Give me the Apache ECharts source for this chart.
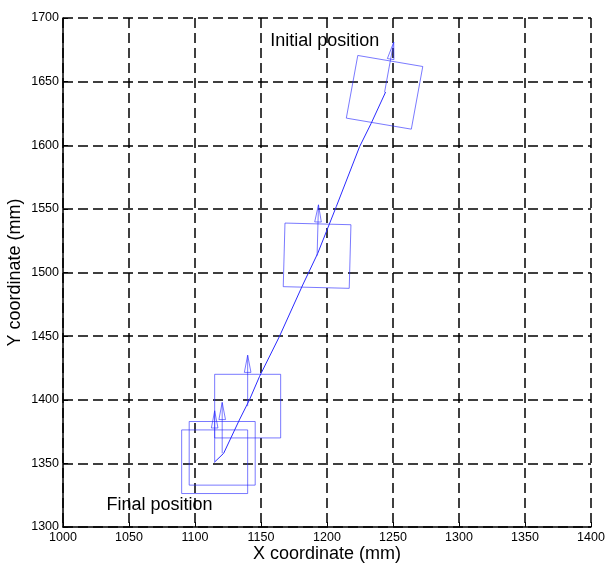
<!DOCTYPE html>
<html>
<head>
<meta charset="utf-8">
<script src="https://cdn.jsdelivr.net/npm/echarts@6/dist/echarts.min.js"></script>
<style>
html,body{margin:0;padding:0;background:#fff;}
#chart{width:606px;height:563px;}
</style>
</head>
<body>
<div id="chart"></div>
<script>
// Axis ranges / ticks
const xMin = 1000, xMax = 1400, xStep = 50;
const yMin = 1300, yMax = 1700, yStep = 50;

// Trajectory of the robot centre (mm)
const pathX = [1244.4, 1233.5, 1224.7, 1207.0, 1193.0, 1181.6, 1163.9, 1148.8, 1141.2, 1133.6, 1121.7, 1114.6];
const pathY = [1641.8, 1617.3, 1598.9, 1551.7, 1515.1, 1490.2, 1449.6, 1418.1, 1399.8, 1384.1, 1357.9, 1350.8];

// Robot poses drawn along the trajectory: centre (mm) and heading rotation (deg)
const poseX = [1243.6, 1192.5, 1139.9, 1120.6, 1114.9];
const poseY = [1641.6, 1513.2, 1395.0, 1357.9, 1351.3];
const poseAngle = [-10, -1.5, 0, 0, 0];

// Robot body / heading arrow dimensions (mm)
const bodySide = 50;
const arrowLength = 40;
const headLength = 13.5;
const headHalfWidth = 2.5;

// Annotations
const annoText = ['Initial position', 'Final position'];
const annoX = [1157, 1033];
const annoY = [1682, 1317];

const blue = '#2b2bff';

function rot(dx, dy, deg) {
  const t = deg * Math.PI / 180;
  return [dx * Math.cos(t) - dy * Math.sin(t), dx * Math.sin(t) + dy * Math.cos(t)];
}

const series = [];
series.push({
  type: 'line', data: pathX.map((x, i) => [x, pathY[i]]),
  showSymbol: false, symbol: 'none', smooth: false,
  lineStyle: { color: blue, width: 1 }, silent: true, z: 5
});

const h = bodySide / 2;
poseX.forEach((cx, i) => {
  const cy = poseY[i], a = poseAngle[i];
  const corners = [[-h, h], [h, h], [h, -h], [-h, -h], [-h, h]].map(([dx, dy]) => {
    const r = rot(dx, dy, a); return [cx + r[0], cy + r[1]];
  });
  series.push({
    type: 'line', data: corners, showSymbol: false, symbol: 'none',
    lineStyle: { color: blue, width: 0.9, opacity: 0.7 }, silent: true, z: 4
  });
  const tip = rot(0, arrowLength, a);
  const bl = rot(-headHalfWidth, arrowLength - headLength, a);
  const br = rot(headHalfWidth, arrowLength - headLength, a);
  series.push({
    type: 'line', data: [[cx, cy], [cx + tip[0], cy + tip[1]]],
    showSymbol: false, symbol: 'none',
    lineStyle: { color: blue, width: 0.9, opacity: 0.7 }, silent: true, z: 4
  });
  series.push({
    type: 'line',
    data: [[cx + bl[0], cy + bl[1]], [cx + tip[0], cy + tip[1]], [cx + br[0], cy + br[1]], [cx + bl[0], cy + bl[1]]],
    showSymbol: false, symbol: 'none',
    lineStyle: { color: blue, width: 0.9, opacity: 0.7 }, silent: true, z: 4
  });
});

series.push({
  type: 'scatter', symbolSize: 0, silent: true, z: 6,
  data: annoText.map((t, i) => ({ value: [annoX[i], annoY[i]], name: t })),
  label: {
    show: true, position: 'right', distance: 0,
    formatter: p => p.name,
    fontFamily: 'Liberation Sans, Arial, sans-serif', fontSize: 18, color: '#000'
  },
  itemStyle: { opacity: 1 }
});

const axisFont = 'Liberation Sans, Arial, sans-serif';
const chart = echarts.init(document.getElementById('chart'), null, { renderer: 'canvas' });
chart.setOption({
  animation: false,
  backgroundColor: '#fff',
  grid: { left: 63, right: 15, top: 18, bottom: 36, containLabel: false, outerBoundsMode: 'none' },
  xAxis: {
    type: 'value', min: xMin, max: xMax, interval: xStep,
    name: 'X coordinate (mm)', nameLocation: 'middle', nameGap: 18, nameMoveOverlap: false,
    nameTextStyle: { fontFamily: axisFont, fontSize: 18, color: '#000' },
    axisLine: { show: true, onZero: false, lineStyle: { color: '#000', width: 1.5 } },
    axisTick: { show: true, inside: true, length: 5, lineStyle: { color: '#000' } },
    axisLabel: { fontFamily: axisFont, fontSize: 12.5, color: '#000', margin: 4, formatter: v => String(v) },
    splitLine: { show: true, lineStyle: { color: '#000', width: 1.5, type: [10, 5] } }
  },
  yAxis: {
    type: 'value', min: yMin, max: yMax, interval: yStep,
    name: 'Y coordinate (mm)', nameLocation: 'middle', nameGap: 39, nameRotate: 90, nameMoveOverlap: false,
    nameTextStyle: { fontFamily: axisFont, fontSize: 18, color: '#000' },
    axisLine: { show: true, onZero: false, lineStyle: { color: '#000', width: 1.5 } },
    axisTick: { show: true, inside: true, length: 5, lineStyle: { color: '#000' } },
    axisLabel: { fontFamily: axisFont, fontSize: 12.5, color: '#000', margin: 4, formatter: v => String(v) },
    splitLine: { show: true, lineStyle: { color: '#000', width: 1.5, type: [10, 5] } }
  },
  series: series
});
</script>
</body>
</html>
